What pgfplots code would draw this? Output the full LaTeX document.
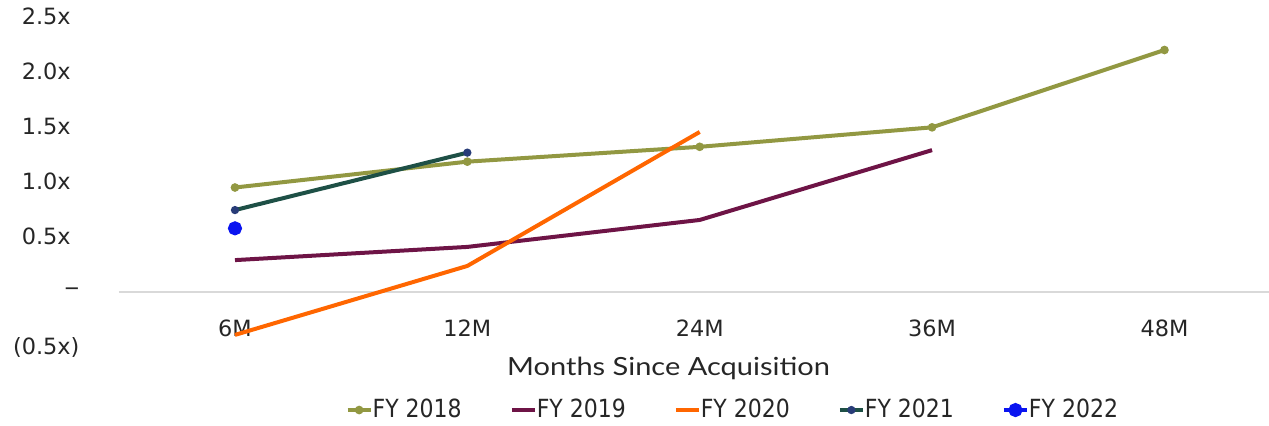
\documentclass[border=0pt]{standalone}
\usepackage{fontspec}
\setmainfont{DejaVu Sans}
\newfontfamily\labfont[FakeStretch=1.16]{Lato}
\newfontfamily\legfont[FakeStretch=0.88]{DejaVu Sans}
\usepackage{pgfplots}
\pgfplotsset{compat=1.18}
\definecolor{c18}{RGB}{146,152,66}
\definecolor{c19}{RGB}{110,20,70}
\definecolor{c20}{RGB}{255,102,0}
\definecolor{c21}{RGB}{30,80,70}
\definecolor{c21m}{RGB}{40,60,120}
\definecolor{c22}{RGB}{10,20,240}
\begin{document}
\begin{tikzpicture}
\begin{axis}[
  scale only axis, width=575.1pt, height=165pt,
  xmin=-0.5, xmax=4.45, ymin=-0.5, ymax=2.5,
  axis line style={draw=none},
  major tick length=0pt,
  xtick={0,1,2,3,4}, xticklabels={6M,12M,24M,36M,48M},
  ytick={-0.5,0,0.5,1,1.5,2,2.5},
  yticklabels={(0.5x),\scalebox{1.35}[1.1]{–},0.5x\phantom{)},1.0x\phantom{)},1.5x\phantom{)},2.0x\phantom{)},2.5x\phantom{)}},
  tick label style={font=\fontsize{11.2}{13}\selectfont, text=black!85},
  xticklabel style={anchor=center, yshift=9.5pt, inner sep=0pt},
  yticklabel style={anchor=east, inner sep=0pt, xshift=-19.5pt},
  extra y ticks={0}, extra y tick labels={},
  extra y tick style={grid=major, major grid style={black!15, line width=0.8pt}},
  xlabel={Months Since Acquisition},
  xlabel style={font=\labfont\fontsize{12.5}{14}\selectfont, text=black!85, at={(axis description cs:0.478,0)}, anchor=center, yshift=-10.5pt},
  legend columns=5,
  legend style={draw=none, fill=none, at={(axis description cs:0.533,-0.191)}, anchor=center,
    font=\legfont\fontsize{12.5}{14}\selectfont, text=black!85,
    /tikz/every even column/.append style={column sep=24pt},
    nodes={inner xsep=0pt}},
  legend image code/.code={\draw[mark repeat=2,mark phase=2,#1] plot coordinates {(0pt,0pt) (5.75pt,0pt) (11.5pt,0pt)};},
  clip=false,
]
\addplot[c18, line width=2pt, mark=*, mark size=1.1pt] coordinates {(0,0.95) (1,1.185) (2,1.32) (3,1.497) (4,2.2)};
\addlegendentry{FY 2018}
\addplot[c19, line width=2pt] coordinates {(0,0.29) (1,0.41) (2,0.655) (3,1.29)};
\addlegendentry{FY 2019}
\addplot[c20, line width=2pt] coordinates {(0,-0.39) (1,0.237) (2,1.455)};
\addlegendentry{FY 2020}
\addplot[c21, line width=2pt, mark=*, mark size=1pt, mark options={c21m}] coordinates {(0,0.745) (1,1.267)};
\addlegendentry{FY 2021}
\addplot[c22, line width=2pt, mark=*, mark size=2.5pt] coordinates {(0,0.579)};
\addlegendentry{FY 2022}
\end{axis}
\pgfresetboundingbox
\path[use as bounding box] (-59.4pt,-39pt) rectangle (575.1pt,173.5pt);
\end{tikzpicture}
\end{document}
